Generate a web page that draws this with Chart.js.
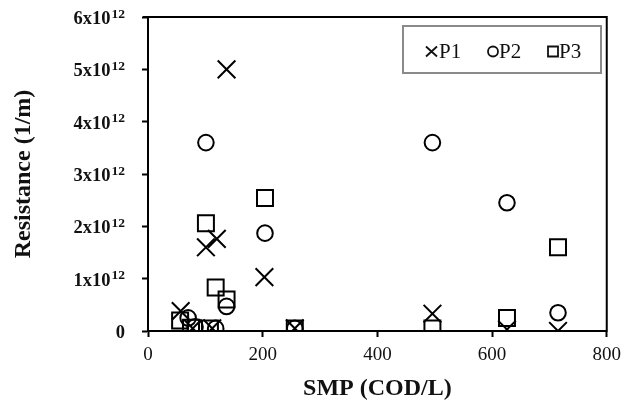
<!DOCTYPE html>
<html>
<head>
<meta charset="utf-8">
<script src="https://cdn.jsdelivr.net/npm/chart.js@4.4.1/dist/chart.umd.min.js"></script>
<style>
  html, body { margin: 0; padding: 0; background: #ffffff; }
  #wrap { width: 628px; height: 406px; position: relative; }
</style>
</head>
<body>
<div id="wrap"><canvas id="chart"></canvas></div>
<script>
// SMP concentration (COD/L) against filtration resistance (1/m) for three runs
const seriesNames = ['P1', 'P2', 'P3'];

const p1Smp = [57, 78, 101, 112, 120, 137, 203, 256, 496, 626, 715];
const p1Res = [0.38e12, 0.05e12, 1.6e12, 0.05e12, 1.76e12, 5.0e12, 1.03e12, 0.05e12, 0.33e12, 0.03e12, 0.0];

const p2Smp = [70, 82, 101, 118, 137, 204, 256, 496, 626, 715];
const p2Res = [0.25e12, 0.08e12, 3.6e12, 0.05e12, 0.47e12, 1.87e12, 0.05e12, 3.6e12, 2.45e12, 0.35e12];

const p3Smp = [56, 75, 101, 108, 118, 137, 204, 256, 496, 626, 715];
const p3Res = [0.2e12, 0.06e12, 2.06e12, 0.05e12, 0.83e12, 0.6e12, 2.54e12, 0.05e12, 0.05e12, 0.25e12, 1.6e12];

const xTickLabels = ['0', '200', '400', '600', '800'];
const yTickValues = [0, 1e12, 2e12, 3e12, 4e12, 5e12, 6e12];
const yTickLabels = ['0', '1x10^12', '2x10^12', '3x10^12', '4x10^12', '5x10^12', '6x10^12'];

const SERIF = "'Liberation Serif', 'Times New Roman', serif";
const INK = '#111111';

function toPoints(xs, ys) {
  return xs.map((x, i) => ({ x: x, y: ys[i] }));
}

// Y tick labels with a raised exponent
const yLabelPlugin = {
  id: 'yLabels',
  afterDraw(chart) {
    const ctx = chart.ctx;
    const yScale = chart.scales.y;
    const right = yScale.right - 23;
    ctx.save();
    ctx.fillStyle = INK;
    ctx.textAlign = 'left';
    ctx.textBaseline = 'alphabetic';
    yTickValues.forEach((v, i) => {
      const y = yScale.getPixelForValue(v);
      const parts = yTickLabels[i].split('^');
      ctx.font = 'bold 18.5px ' + SERIF;
      const baseW = ctx.measureText(parts[0]).width;
      let supW = 0;
      if (parts[1]) {
        ctx.font = 'bold 13.5px ' + SERIF;
        supW = ctx.measureText(parts[1]).width + 1;
      }
      const x0 = right - baseW - supW;
      ctx.font = 'bold 18.5px ' + SERIF;
      ctx.fillText(parts[0], x0, y + 7);
      if (parts[1]) {
        ctx.font = 'bold 13.5px ' + SERIF;
        ctx.fillText(parts[1], x0 + baseW + 1, y + 0.5);
      }
    });
    ctx.restore();
  }
};

// Closing top and right edges of the plot frame
const framePlugin = {
  id: 'frame',
  afterDraw(chart) {
    const { ctx, chartArea: a } = chart;
    ctx.save();
    ctx.strokeStyle = '#000';
    ctx.lineWidth = 2;
    ctx.beginPath();
    ctx.moveTo(a.left - 5, a.top);
    ctx.lineTo(a.right + 1, a.top);
    ctx.moveTo(a.right, a.top);
    ctx.lineTo(a.right, a.bottom + 1);
    ctx.stroke();
    ctx.restore();
  }
};

// Boxed legend in the upper right of the plot
const boxLegendPlugin = {
  id: 'boxLegend',
  afterDraw(chart) {
    const ctx = chart.ctx;
    const bx = 403, by = 26, bw = 198, bh = 47;
    ctx.save();
    ctx.fillStyle = '#ffffff';
    ctx.fillRect(bx, by, bw, bh);
    ctx.strokeStyle = '#8a8a8a';
    ctx.lineWidth = 2;
    ctx.strokeRect(bx, by, bw, bh);

    const cy = 51.5;
    const items = [
      { style: 'cross', mx: 431.5, tx: 439 },
      { style: 'circle', mx: 493, tx: 499 },
      { style: 'rect', mx: 553, tx: 559 }
    ];
    ctx.strokeStyle = INK;
    ctx.lineWidth = 1.8;
    items.forEach((it, i) => {
      ctx.beginPath();
      if (it.style === 'cross') {
        ctx.moveTo(it.mx - 5.5, cy - 5);
        ctx.lineTo(it.mx + 5.5, cy + 5);
        ctx.moveTo(it.mx + 5.5, cy - 5);
        ctx.lineTo(it.mx - 5.5, cy + 5);
      } else if (it.style === 'circle') {
        ctx.arc(it.mx, cy, 5, 0, Math.PI * 2);
      } else {
        ctx.rect(it.mx - 5, cy - 5, 10, 10);
      }
      ctx.stroke();
      ctx.fillStyle = INK;
      ctx.font = '21px ' + SERIF;
      ctx.textAlign = 'left';
      ctx.textBaseline = 'middle';
      ctx.fillText(seriesNames[i], it.tx, cy + 1);
    });
    ctx.restore();
  }
};

const markerBase = {
  showLine: false,
  borderColor: '#000000',
  backgroundColor: 'rgba(0,0,0,0)',
  borderWidth: 2,
  pointBorderWidth: 2,
  pointHoverRadius: 0
};

new Chart(document.getElementById('chart'), {
  type: 'scatter',
  data: {
    datasets: [
      Object.assign({}, markerBase, { label: seriesNames[0], data: toPoints(p1Smp, p1Res), pointStyle: 'crossRot', pointRadius: 12.5 }),
      Object.assign({}, markerBase, { label: seriesNames[1], data: toPoints(p2Smp, p2Res), pointStyle: 'circle', pointRadius: 7.8 }),
      Object.assign({}, markerBase, { label: seriesNames[2], data: toPoints(p3Smp, p3Res), pointStyle: 'rect', pointRadius: 11.3 })
    ]
  },
  options: {
    responsive: true,
    maintainAspectRatio: false,
    animation: false,
    events: [],
    layout: { padding: { top: 17, right: 18, left: 0, bottom: 0 } },
    plugins: {
      legend: { display: false },
      tooltip: { enabled: false }
    },
    scales: {
      x: {
        type: 'linear',
        min: 0,
        max: 800,
        afterFit(scale) { scale.height = 75; },
        afterBuildTicks(scale) {
          scale.ticks = xTickLabels.map(t => ({ value: Number(t) }));
        },
        ticks: {
          callback: (v, i) => xTickLabels[i],
          font: { family: SERIF, size: 19 },
          color: INK,
          padding: 7,
          maxRotation: 0
        },
        grid: {
          drawOnChartArea: false,
          drawTicks: true,
          tickLength: 6,
          tickColor: '#000',
          tickWidth: 2
        },
        border: { display: true, color: '#000', width: 2 },
        title: {
          display: true,
          text: 'SMP (COD/L)',
          font: { family: SERIF, size: 24, weight: 'bold' },
          color: INK,
          padding: { top: 0, bottom: 3 }
        }
      },
      y: {
        type: 'linear',
        min: 0,
        max: 6e12,
        afterFit(scale) { scale.width = 148; },
        afterBuildTicks(scale) {
          scale.ticks = yTickValues.map(v => ({ value: v }));
        },
        ticks: {
          callback: () => '',
          padding: 0
        },
        grid: {
          drawOnChartArea: false,
          drawTicks: true,
          tickLength: 6,
          tickColor: '#000',
          tickWidth: 2
        },
        border: { display: true, color: '#000', width: 2 },
        title: {
          display: true,
          text: 'Resistance (1/m)',
          font: { family: SERIF, size: 24, weight: 'bold' },
          color: INK,
          padding: { top: 9, bottom: 0 }
        }
      }
    }
  },
  plugins: [framePlugin, yLabelPlugin, boxLegendPlugin]
});
</script>
</body>
</html>
